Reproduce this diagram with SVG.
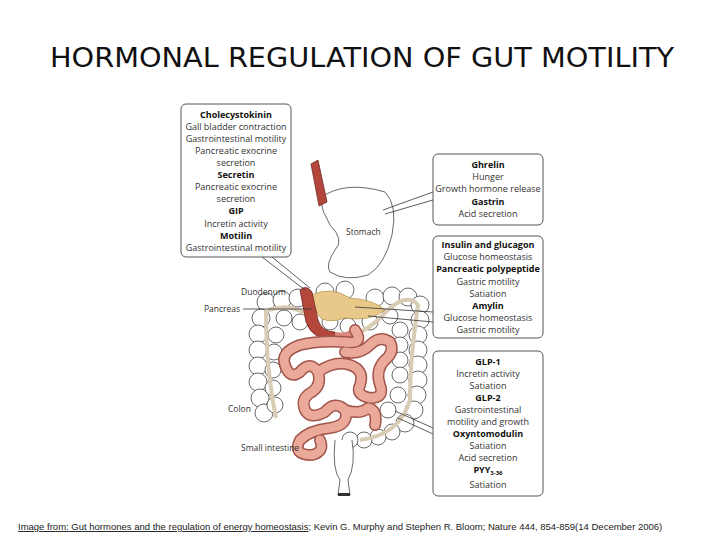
<svg xmlns="http://www.w3.org/2000/svg" width="720" height="540" viewBox="0 0 720 540">
<style>
.t{font-family:"Open Sans","DejaVu Sans",sans-serif;font-size:9px;fill:#333;text-anchor:middle}
.b{font-weight:bold;fill:#111}
.lbl{font-family:"Open Sans","DejaVu Sans",sans-serif;font-size:8.5px;fill:#333}
.box{fill:#fff;stroke:#555;stroke-width:1}
.ld{stroke:#333;stroke-width:0.8;fill:none}
.ol{fill:#fff;stroke:#444;stroke-width:0.8}
</style>
<defs>
<path id="si" d="M355 330 Q365 345 345 342 Q320 340 300 345 Q280 352 285 365 Q290 380 300 372 Q310 360 318 372 Q322 385 312 392 Q300 398 305 410 Q310 420 325 412 Q335 400 345 410 Q350 425 330 428 Q310 430 300 440 Q292 455 312 455 Q325 452 320 440 M318 372 Q335 360 350 365 Q365 370 360 385 Q355 395 370 398 Q385 398 380 385 Q375 370 385 360 Q395 352 390 342 Q380 335 370 345 Q360 355 345 352 M345 410 Q360 415 368 408 Q378 410 375 425"/>
</defs>
<rect width="720" height="540" fill="#fff"/>
<text x="362" y="67" font-family="'DejaVu Sans',sans-serif" font-size="27" text-anchor="middle" textLength="624" lengthAdjust="spacingAndGlyphs" fill="#111">HORMONAL REGULATION OF  GUT MOTILITY</text>

<g id="anatomy">
<g class="ol">
<circle cx="266" cy="302" r="9"/><circle cx="261" cy="318" r="9"/><circle cx="258" cy="334" r="9"/><circle cx="258" cy="350" r="9"/><circle cx="258" cy="366" r="9"/><circle cx="258" cy="382" r="9"/><circle cx="260" cy="398" r="9"/><circle cx="264" cy="413" r="9"/>
<circle cx="282" cy="300" r="9"/><circle cx="298" cy="298" r="9"/><circle cx="325" cy="292" r="9"/><circle cx="345" cy="290" r="9"/><circle cx="375" cy="298" r="9"/><circle cx="392" cy="296" r="9"/><circle cx="408" cy="297" r="9"/><circle cx="420" cy="305" r="9"/>
<circle cx="420" cy="320" r="9"/><circle cx="418" cy="335" r="9"/><circle cx="418" cy="350" r="9"/><circle cx="418" cy="365" r="9"/><circle cx="418" cy="380" r="9"/><circle cx="417" cy="395" r="9"/><circle cx="414" cy="410" r="9"/><circle cx="405" cy="423" r="9"/>
<circle cx="392" cy="432" r="8"/><circle cx="378" cy="437" r="8"/><circle cx="364" cy="440" r="8"/><circle cx="350" cy="440" r="8"/>
<circle cx="284" cy="318" r="8"/><circle cx="300" cy="322" r="8"/><circle cx="330" cy="322" r="8"/><circle cx="348" cy="326" r="8"/><circle cx="370" cy="322" r="8"/><circle cx="390" cy="316" r="8"/><circle cx="400" cy="330" r="8"/><circle cx="400" cy="345" r="8"/><circle cx="400" cy="360" r="8"/><circle cx="400" cy="375" r="8"/><circle cx="398" cy="395" r="8"/><circle cx="388" cy="410" r="8"/><circle cx="276" cy="335" r="8"/><circle cx="274" cy="352" r="8"/><circle cx="273" cy="370" r="8"/><circle cx="273" cy="388" r="8"/><circle cx="275" cy="405" r="8"/>
</g>
<path d="M268 310 Q300 300 320 328 Q345 350 380 318 Q405 290 418 305 Q410 360 410 400 Q400 435 360 440 M266 310 Q266 370 276 418" fill="none" stroke="#d9ccb4" stroke-width="4"/>
<path d="M335 440 Q332 470 340 480 L338 495 L350 495 L348 480 Q356 465 352 440" class="ol"/>
<rect x="338" y="493" width="12" height="3" fill="#333"/>
<path d="M320 198 Q345 180 385 192 Q398 205 392 235 Q385 265 368 275 Q345 282 330 272 Q325 265 335 250 Q345 240 330 225 Q322 212 320 198 Z" class="ol"/>
<path d="M311 164 L318 160 L327 202 L319 206 Z" fill="#b5463c" stroke="#6e2a24" stroke-width="0.8"/>
<path d="M310 296 Q330 285 350 298 Q375 300 385 310 Q370 322 345 318 Q325 325 318 315 Z" fill="#e8c98a" stroke="#b99a5a" stroke-width="0.8"/>
<path d="M300 290 Q306 284 312 292 L318 320 Q322 332 335 332 L335 340 Q312 340 306 322 Z" fill="#b5463c" stroke="#6e2a24" stroke-width="0.8"/>
<path d="M335 336 Q350 338 355 330" fill="none" stroke="#d98a7c" stroke-width="8"/>
<g fill="none" stroke-linecap="round" stroke-linejoin="round">
<use href="#si" stroke="#a0544a" stroke-width="12"/>
<use href="#si" stroke="#eba99a" stroke-width="9"/>
</g>
</g>

<g id="connectors">
<path class="ld" d="M433 192 L383 210 M433 200 L385 214"/>
<path class="ld" d="M433 312 L355 307 M433 322 L368 316"/>
<path class="ld" d="M433 428 L395 411 M433 434 L398 418"/>
<path class="ld" d="M262 257 L305 290 M272 257 L310 288"/>
<path class="ld" d="M243 309 L312 309"/>
</g>

<g id="labels">
<text class="lbl" x="346" y="235">Stomach</text>
<text class="lbl" x="241" y="295">Duodenum</text>
<text class="lbl" x="204" y="312">Pancreas</text>
<text class="lbl" x="228" y="412">Colon</text>
<text class="lbl" x="241" y="451">Small intestine</text>
</g>

<g id="box-left">
<rect class="box" x="181" y="104" width="110" height="153" rx="5"/>
<text class="t b" x="236" y="118">Cholecystokinin</text>
<text class="t" x="236" y="130">Gall bladder contraction</text>
<text class="t" x="236" y="142">Gastrointestinal motility</text>
<text class="t" x="236" y="154">Pancreatic exocrine</text>
<text class="t" x="236" y="166">secretion</text>
<text class="t b" x="236" y="178">Secretin</text>
<text class="t" x="236" y="190">Pancreatic exocrine</text>
<text class="t" x="236" y="202">secretion</text>
<text class="t b" x="236" y="214">GIP</text>
<text class="t" x="236" y="227">Incretin activity</text>
<text class="t b" x="236" y="239">Motilin</text>
<text class="t" x="236" y="251">Gastrointestinal motility</text>
</g>

<g id="box-ghrelin">
<rect class="box" x="433" y="154" width="110" height="71" rx="5"/>
<text class="t b" x="488" y="168">Ghrelin</text>
<text class="t" x="488" y="180">Hunger</text>
<text class="t" x="488" y="192">Growth hormone release</text>
<text class="t b" x="488" y="205">Gastrin</text>
<text class="t" x="488" y="217">Acid secretion</text>
</g>

<g id="box-pancreas">
<rect class="box" x="433" y="236" width="110" height="102" rx="5"/>
<text class="t b" x="488" y="248">Insulin and glucagon</text>
<text class="t" x="488" y="260">Glucose homeostasis</text>
<text class="t b" x="488" y="272">Pancreatic polypeptide</text>
<text class="t" x="488" y="285">Gastric motility</text>
<text class="t" x="488" y="297">Satiation</text>
<text class="t b" x="488" y="309">Amylin</text>
<text class="t" x="488" y="321">Glucose homeostasis</text>
<text class="t" x="488" y="333">Gastric motility</text>
</g>

<g id="box-intestine">
<rect class="box" x="433" y="351" width="110" height="145" rx="5"/>
<text class="t b" x="488" y="365">GLP-1</text>
<text class="t" x="488" y="377">Incretin activity</text>
<text class="t" x="488" y="389">Satiation</text>
<text class="t b" x="488" y="401">GLP-2</text>
<text class="t" x="488" y="413">Gastrointestinal</text>
<text class="t" x="488" y="425">motility and growth</text>
<text class="t b" x="488" y="437">Oxyntomodulin</text>
<text class="t" x="488" y="449">Satiation</text>
<text class="t" x="488" y="461">Acid secretion</text>
<text class="t b" x="488" y="473">PYY<tspan font-size="6" dy="1.5">3-36</tspan></text>
<text class="t" x="488" y="488">Satiation</text>
</g>

<text x="18" y="530" font-family="'Liberation Sans',Arial,sans-serif" font-size="9.5" fill="#222"><tspan text-decoration="underline">Image from: Gut hormones and the regulation of energy homeostasis</tspan>; Kevin G. Murphy and Stephen R. Bloom; Nature 444, 854-859(14 December 2006)</text>
</svg>
